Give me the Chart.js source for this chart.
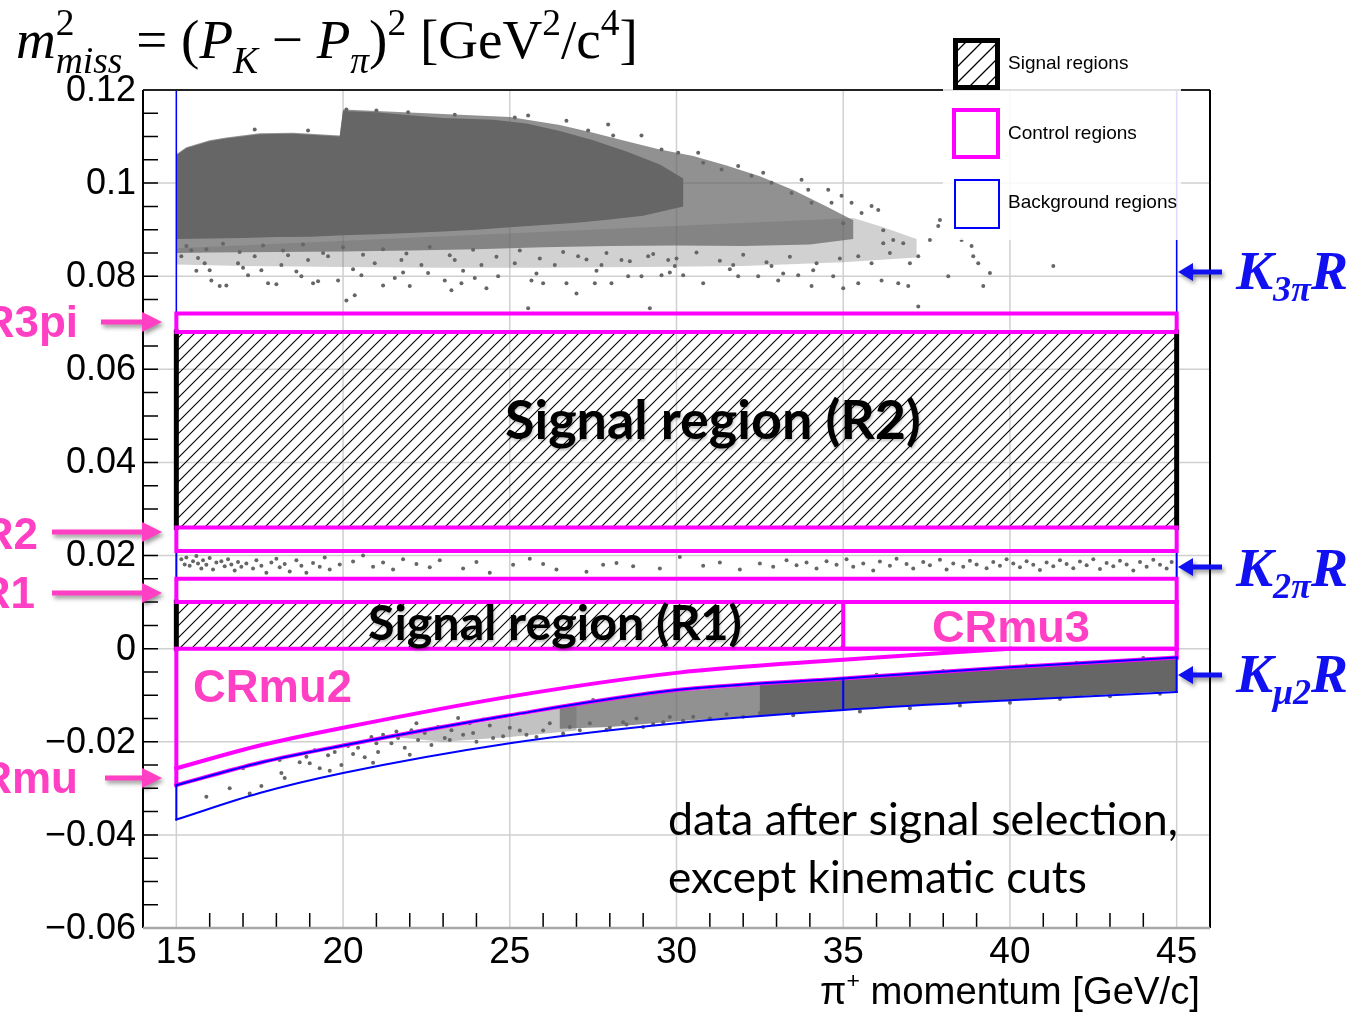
<!DOCTYPE html>
<html>
<head>
<meta charset="utf-8">
<script src="https://cdn.jsdelivr.net/npm/chart.js@4.4.1/dist/chart.umd.min.js"></script>
<style>
  html, body { margin: 0; padding: 0; background: #fff; }
  #wrap { width: 1353px; height: 1014px; }
</style>
</head>
<body>
<div id="wrap"><canvas id="chart" width="1353" height="1014"></canvas></div>
<script>
// axis ranges and ticks
const xRange = [14, 46];
const yRange = [-0.06, 0.12];
const xTicks = [15, 20, 25, 30, 35, 40, 45];
const yTicks = [-0.06, -0.04, -0.02, 0, 0.02, 0.04, 0.06, 0.08, 0.1, 0.12];
const yTickLabels = ['\u22120.06', '\u22120.04', '\u22120.02', '0', '0.02', '0.04', '0.06', '0.08', '0.1', '0.12'];

// regions: [pMin, pMax, m2Min, m2Max]
const sigR1 = [15, 35, 0, 0.01];
const sigR2 = [15, 45, 0.026, 0.068];
const crR1 = [15, 45, 0.01, 0.015];
const crR2 = [15, 45, 0.021, 0.026];
const cr3pi = [15, 45, 0.068, 0.072];
const crMu3 = [35, 45, 0, 0.01];
const bgK2pi = [15, 45, 0.015, 0.021];
const bgK3pi = [15, 45, 0.072, 0.12];

// Kmu2 region edges
const kmu2P = [15, 17.5, 20, 25, 30, 35, 40, 45];
const kmu2Upper = [-0.0293, -0.0245, -0.0208, -0.0143, -0.0089, -0.0064, -0.0040, -0.0019];
const kmu2Lower = [-0.0367, -0.0310, -0.0267, -0.0203, -0.0160, -0.0132, -0.0111, -0.0093];
const crMu2P = [15, 17.5, 20, 25, 30, 35, 40];
const crMu2Edge = [-0.0257, -0.0208, -0.0170, -0.0103, -0.0052, -0.0024, 0];

// outlines of the dense (saturated) parts of the scatter clouds
const k3piCore = [[15,0.0880],[15,0.1060],[15.3,0.1075],[16,0.1090],[16.5,0.1096],[17.5,0.1105],[18.5,0.1106],[19.9,0.1100],
  [20.0,0.1155],[21,0.1152],[22,0.1146],[23,0.1140],[24.5,0.1136],[25.5,0.1128],[26.5,0.1112],[27.5,0.1092],[28.5,0.1068],
  [29.5,0.1040],[30.2,0.1010],[30.2,0.0950],[29,0.0930],[28,0.0922],[27,0.0915],[26,0.0910],[25,0.0905],[24,0.0900],
  [23,0.0896],[22,0.0893],[21,0.0890],[20,0.0888],[19,0.0885],[18,0.0884],[17,0.0882],[16,0.0881]];
const k3piHalo = [[15,0.0850],[15,0.1062],[15.3,0.1077],[16,0.1092],[16.5,0.1098],[17.5,0.1107],[18.5,0.1108],[19.9,0.1102],
  [20,0.1158],[25,0.1142],[26.5,0.1125],[27.5,0.1108],[28.5,0.1090],[29.5,0.1072],
  [30.5,0.1058],[31.5,0.1038],[32.5,0.1015],[33.5,0.0985],[34.5,0.0950],[35.3,0.0920],[35.3,0.0880],[34,0.0868],
  [32,0.0865],[30,0.0866],[28,0.0865],[26,0.0862],[24,0.0858],[22,0.0855],[20,0.0853],[18,0.0852],[16,0.0851]];
const k3piFringe = [[15,0.0825],[15,0.0860],[35.3,0.0925],[36.2,0.0905],[37.2,0.0880],[37.2,0.0840],[35,0.0830],
  [32,0.0822],[29,0.0820],[26,0.0818],[23,0.0818],[20,0.0820],[17,0.0822]];
const kmu2Core = [[32.5,-0.0078],[35,-0.0066],[37.5,-0.0054],[40,-0.0042],[42.5,-0.0031],[45,-0.0021],
  [45,-0.0091],[42.5,-0.0100],[40,-0.0110],[37.5,-0.0120],[35,-0.0131],[32.5,-0.0143]];
const kmu2Mid = [[26.5,-0.0124],[28,-0.0107],[30,-0.0092],[33,-0.0076],[33,-0.0142],[30,-0.0156],[28,-0.0168],[26.5,-0.0172]];
const kmu2Halo = [[21.5,-0.0190],[25,-0.0148],[27,-0.0122],[27,-0.0176],[25,-0.0190],[23,-0.0200]];

// individual events outside the dense parts
const k3piPoints = [[16.05,0.0791],[16.3,0.0779],[16.5,0.078],[16.0,0.0813],[17.15,0.0802],[17.75,0.0785],[18.0,0.0783],
  [17.55,0.0813],[18.15,0.0824],[18.75,0.080],[19.1,0.0785],[19.25,0.0789],[19.85,0.0791],[20.1,0.0748],[20.35,0.0759],
  [20.55,0.0802],[21.2,0.078],[21.55,0.0796],[22.0,0.0779],[22.55,0.0807],[23.05,0.0791],[23.25,0.077],[23.55,0.0785],
  [23.95,0.0796],[24.3,0.0774],[24.65,0.080],[25.55,0.0731],[25.65,0.0791],[26.0,0.0785],[26.7,0.0785],[27.0,0.0763],
  [27.55,0.0785],[28.05,0.0785],[28.55,0.080],[28.95,0.080],[29.2,0.0731],[29.55,0.0802],[29.95,0.0822],
  [15.15,0.0843],[15.65,0.0839],[15.85,0.0828],[15.45,0.0856],[16.85,0.0828],[17.35,0.0843],[18.35,0.0845],[18.95,0.0835],
  [19.55,0.0843],[20.95,0.0828],[21.75,0.0835],[22.35,0.0824],[23.35,0.0835],[24.15,0.0824],[25.15,0.0828],[26.35,0.0824],
  [27.05,0.0843],[27.75,0.0824],[28.35,0.0835],[29.15,0.0843],[29.75,0.0835],
  [15.3,0.0865],[15.9,0.0858],[16.4,0.0870],[16.9,0.0852],[17.6,0.0866],[18.2,0.0855],[18.8,0.0868],[19.4,0.0850],
  [20.0,0.0862],[20.6,0.0846],[21.2,0.0858],[21.9,0.0849],[22.6,0.0863],[23.2,0.0845],[23.9,0.0857],[24.6,0.0842],
  [25.3,0.0855],[25.9,0.0838],[26.6,0.0852],[27.3,0.0836],[27.9,0.0850],[28.6,0.0832],[29.3,0.0848],[30.0,0.0838],
  [30.6,0.0851],[31.3,0.0833],[32.0,0.0846],[32.7,0.0830],[33.4,0.0842],[34.2,0.0828],[34.9,0.0838],
  [15.6,0.0812],[17.0,0.0818],[18.6,0.0810],[20.3,0.0815],[21.8,0.0808],[23.6,0.0812],[25.8,0.0806],[27.6,0.0812],
  [29.8,0.0808],[31.6,0.0815],[33.2,0.0806],
  [20.1,0.1158],[21.0,0.1156],[21.95,0.1152],[23.35,0.1147],[25.15,0.1141],[25.55,0.1145],[26.7,0.1134],[27.95,0.1126],
  [28.1,0.1102],[28.95,0.1102],[27.35,0.1113],[16.45,0.1083],[17.35,0.1115],[18.95,0.1113],[29.55,0.1072],[30.05,0.1065],
  [30.65,0.1065],[30.8,0.1044],[31.35,0.1029],[31.85,0.1037],[32.25,0.1016],[32.6,0.1022],[32.85,0.1001],[33.45,0.0979],
  [33.75,0.1007],[33.95,0.0986],[34.05,0.0958],[34.55,0.0986],[34.65,0.0958],[34.95,0.0973],[35.25,0.0958],[35.0,0.0914],
  [35.55,0.0936],[35.85,0.0951],[36.05,0.0942],[36.2,0.0899],[36.5,0.0878],[36.8,0.0871],[37.25,0.0843],[37.6,0.0878],
  [37.85,0.0908],[37.9,0.0921],[38.15,0.080],[38.55,0.0878],[38.85,0.0865],[38.9,0.0843],[39.05,0.0828],[39.2,0.0779],
  [39.4,0.0807],[41.3,0.0822],[37.25,0.0735],[36.95,0.0779],[36.65,0.0785],[36.15,0.0791],[35.45,0.0785],[35.0,0.0774],
  [34.7,0.080],[34.05,0.0779],[33.65,0.0802],[33.05,0.0791],[32.45,0.080],[31.85,0.080],[30.8,0.0785],[30.2,0.0802],
  [31.7,0.0824],[32.85,0.0822],[34.1,0.0813],[35.85,0.0828],[36.4,0.085],[37.0,0.0828],[35.45,0.0843],[36.2,0.0871]];
const k2piPoints = [[15.15,0.0192],[15.25,0.0181],[15.3,0.0196],[15.4,0.0178],[15.5,0.0188],[15.6,0.0199],[15.65,0.0183],
  [15.75,0.0172],[15.8,0.0190],[15.9,0.0180],[16.0,0.0195],[16.1,0.0170],[16.2,0.0185],[16.35,0.0188],[16.45,0.0177],
  [16.55,0.0192],[16.65,0.0181],[16.75,0.0168],[16.85,0.0186],[16.95,0.0176],[17.1,0.0183],[17.3,0.0172],[17.4,0.0190],
  [17.55,0.0178],[17.7,0.0163],[17.85,0.0185],[18.0,0.0193],[18.1,0.0175],[18.25,0.0182],[18.4,0.0166],[18.6,0.0190],
  [18.75,0.0178],[18.9,0.0163],[19.1,0.0184],[19.3,0.0176],[19.45,0.0196],[19.6,0.0170],[19.9,0.0181],
  [20.3,0.0187],[20.6,0.0200],[20.9,0.0176],[21.2,0.0185],[21.5,0.0170],[21.8,0.0192],[22.2,0.0182],[22.6,0.0175],
  [22.9,0.0190],[23.6,0.0172],[24.0,0.0186],[24.4,0.0163],[25.1,0.0180],[25.6,0.0193],[26.0,0.0182],[26.4,0.0170],
  [27.3,0.0165],[27.8,0.0180],[28.2,0.0184],[28.7,0.0177],[29.5,0.0172],[30.1,0.0197],[30.8,0.0178],[31.3,0.0185],
  [31.9,0.0170],[32.5,0.0183],[32.9,0.0176],[33.3,0.0190],[33.6,0.0179],[33.9,0.0185],[34.2,0.0172],[34.5,0.0188],
  [34.8,0.0180],[35.1,0.0192],[35.3,0.0176],[35.6,0.0183],[35.9,0.0168],[36.1,0.0187],[36.4,0.0178],[36.6,0.0193],
  [36.9,0.0182],[37.1,0.0172],[37.4,0.0186],[37.6,0.0179],[37.9,0.0191],[38.1,0.0170],[38.3,0.0183],[38.6,0.0176],
  [38.8,0.0189],[39.0,0.0181],[39.3,0.0173],[39.5,0.0186],[39.7,0.0178],[39.9,0.0192],[40.1,0.0183],[40.3,0.0175],
  [40.5,0.0188],[40.7,0.0180],[40.9,0.0169],[41.1,0.0185],[41.3,0.0177],[41.5,0.0190],[41.7,0.0182],[41.9,0.0173],
  [42.1,0.0187],[42.3,0.0179],[42.5,0.0192],[42.7,0.0171],[42.9,0.0184],[43.1,0.0177],[43.3,0.0189],[43.5,0.0181],
  [43.7,0.0168],[43.9,0.0186],[44.1,0.0176],[44.3,0.0191],[44.5,0.0180],[44.7,0.0172],[44.85,0.0186]];
const kmu2Points = [[17.0,-0.0257],[17.2,-0.0311],[17.55,-0.0295],[18.15,-0.0267],[18.25,-0.0278],[18.1,-0.0239],
  [18.7,-0.0244],[19.0,-0.0246],[19.15,-0.0218],[19.3,-0.0257],[19.55,-0.0229],[19.75,-0.0222],[19.95,-0.0250],
  [20.15,-0.0209],[20.45,-0.0213],[20.65,-0.0233],[20.85,-0.0190],[21.05,-0.0222],[21.2,-0.0185],[21.45,-0.0203],
  [21.65,-0.0192],[21.85,-0.0213],[22.05,-0.0175],[22.25,-0.0196],[22.45,-0.0181],[22.65,-0.0207],[22.85,-0.0168],
  [23.05,-0.0192],[23.25,-0.0175],[23.45,-0.0149],[23.6,-0.0185],[24.0,-0.0200],[24.4,-0.0165],[24.8,-0.0188],
  [25.3,-0.0176],[25.8,-0.0190],[26.2,-0.0160],[26.6,-0.0182],[27.1,-0.0175],[27.5,-0.0110],[28.0,-0.0170],
  [28.5,-0.0163],[29.0,-0.0168],[29.6,-0.0158],[30.2,-0.0155],[31.0,-0.0150],[32.0,-0.0146],[33.5,-0.0143],
  [35.5,-0.0135],[37.0,-0.0128],[38.5,-0.0122],[40.0,-0.0116],[41.5,-0.0108],[43.0,-0.0102],[44.5,-0.0097],
  [36.0,-0.0056],[38.0,-0.0048],[40.5,-0.0036],[42.0,-0.0030],[44.0,-0.0020],
  [23.2,-0.0196],[23.9,-0.0181],[24.5,-0.0192],[25.0,-0.0170],[25.5,-0.0185],[26.0,-0.0176],[26.8,-0.0168],
  [27.4,-0.0160],[27.9,-0.0174],[28.4,-0.0158],[28.8,-0.0150],[29.3,-0.0162],[29.8,-0.0147],[30.5,-0.0146],
  [31.5,-0.0141],[32.5,-0.0138],[16.6,-0.0300],[19.6,-0.0262],[20.9,-0.0245],[22.0,-0.0228],[22.2,-0.0160],
  [21.0,-0.0203],[20.3,-0.0226],[18.9,-0.0232],[21.6,-0.0178],[23.8,-0.0160],[24.2,-0.0152],[15.9,-0.0318]];

const MAGENTA = '#ff00ff';
const BLUE = '#0000ff';
const PINK = '#ff3fc4';
const DOT = '#666666';

const canvas = document.getElementById('chart');
const ctx0 = canvas.getContext('2d');

const makeHatch = (step, width) => {
    const c = document.createElement('canvas');
    c.width = step;
    c.height = step;
    const g = c.getContext('2d');
    g.strokeStyle = '#000';
    g.lineWidth = width;
    g.beginPath();
    g.moveTo(-2, step + 2); g.lineTo(step + 2, -2);
    g.moveTo(-2, 2); g.lineTo(2, -2);
    g.moveTo(step - 2, step + 2); g.lineTo(step + 2, step - 2);
    g.stroke();
    return ctx0.createPattern(c, 'repeat');
};
const hatch = makeHatch(12, 1.1);
const hatchLegend = makeHatch(16, 1.3);

const xy = arr => arr.map(p => ({ x: p[0], y: p[1] }));
const zipXY = (xs, ys) => xs.map((v, i) => ({ x: v, y: ys[i] }));
const rect = r => [{x: r[0], y: r[2]}, {x: r[1], y: r[2]}, {x: r[1], y: r[3]}, {x: r[0], y: r[3]}, {x: r[0], y: r[2]}];

const layers = [];   // bottom to top
const addFill = (data, color) => layers.push({
    data, showLine: true, fill: 'shape', backgroundColor: color, borderWidth: 0, pointRadius: 0, tension: 0
});
const addLine = (data, color, width, smooth) => layers.push({
    data, showLine: true, fill: false, borderColor: color, borderWidth: width, pointRadius: 0,
    borderCapStyle: 'square', tension: 0, cubicInterpolationMode: smooth ? 'monotone' : 'default'
});
const addDots = data => layers.push({
    data, showLine: false, pointRadius: 2, pointBorderWidth: 0,
    pointBackgroundColor: DOT, pointBorderColor: DOT
});

// K3pi cloud
addFill(xy(k3piFringe), 'rgba(102,102,102,0.3)');
addFill(xy(k3piHalo), 'rgba(102,102,102,0.72)');
addFill(xy(k3piCore), DOT);
addDots(xy(k3piPoints));
// signal regions (hatched)
addFill(rect(sigR2), hatch);
addFill(rect(sigR1), hatch);
// K2pi events
addDots(xy(k2piPoints));
// Kmu2 band
addFill(xy(kmu2Halo), 'rgba(102,102,102,0.4)');
addFill(xy(kmu2Mid), 'rgba(102,102,102,0.72)');
addFill(xy(kmu2Core), DOT);
addDots(xy(kmu2Points));
// signal region borders
addLine(rect(sigR2), '#000', 2);
addLine(rect(sigR1), '#000', 2);
addLine([{x: sigR2[0], y: sigR2[2]}, {x: sigR2[0], y: sigR2[3]}], '#000', 5);
addLine([{x: sigR2[1], y: sigR2[2]}, {x: sigR2[1], y: sigR2[3]}], '#000', 5);
addLine([{x: sigR1[0], y: sigR1[2]}, {x: sigR1[0], y: sigR1[3]}], '#000', 5);
// background regions (blue)
addLine([{x: bgK3pi[0], y: bgK3pi[3]}, {x: bgK3pi[0], y: bgK3pi[2]}, {x: bgK3pi[1], y: bgK3pi[2]}, {x: bgK3pi[1], y: bgK3pi[3]}], BLUE, 1.5);
addLine(rect(bgK2pi), BLUE, 2);
// control regions (magenta)
addLine(rect(cr3pi), MAGENTA, 4);
addLine(rect(crR2), MAGENTA, 4);
addLine(rect(crR1), MAGENTA, 4);
addLine(rect(crMu3), MAGENTA, 4);
addLine([{x: 15, y: 0}, {x: 45, y: 0}], MAGENTA, 4);
addLine([{x: 15, y: 0}, {x: 15, y: kmu2Upper[0]}], MAGENTA, 4);
addLine([{x: 45, y: 0.01}, {x: 45, y: kmu2Upper[kmu2Upper.length - 1]}], MAGENTA, 4);
addLine(zipXY(crMu2P, crMu2Edge), MAGENTA, 4, true);
addLine(zipXY(kmu2P, kmu2Upper), MAGENTA, 4, true);
// Kmu2 background region (blue), split at 35 GeV/c
addLine(zipXY(kmu2P, kmu2Upper), BLUE, 2, true);
addLine(zipXY(kmu2P, kmu2Lower), BLUE, 2, true);
[0, 5, 7].forEach(i => addLine([{x: kmu2P[i], y: kmu2Upper[i]}, {x: kmu2P[i], y: kmu2Lower[i]}], BLUE, 2));

layers.forEach((ds, i) => { ds.order = layers.length - i; });

const fitSize = (ctx, text, font, width) => {
    ctx.font = font.replace('#', '100px');
    return 100 * width / ctx.measureText(text).width;
};

// parts: {t, s: style, k: size factor, dy: shift in em, under: stacked under previous}
const drawRich = (ctx, parts, family, x, baseline, width, color) => {
    const layout = size => {
        let cx = 0, lastX = 0;
        const items = [];
        parts.forEach(p => {
            ctx.font = `${p.s || ''} ${size * (p.k || 1)}px ${family}`;
            const w = ctx.measureText(p.t).width;
            let px;
            if (p.under) {
                px = lastX;
                cx = Math.max(cx, lastX + w);
            } else {
                px = cx;
                cx += w;
            }
            items.push({ p, px, font: ctx.font });
            lastX = px;
        });
        return { items, width: cx };
    };
    const size = 100 * width / layout(100).width;
    const res = layout(size);
    ctx.fillStyle = color;
    ctx.textAlign = 'left';
    ctx.textBaseline = 'alphabetic';
    res.items.forEach(it => {
        ctx.font = it.font;
        ctx.fillText(it.p.t, x + it.px, baseline + (it.p.dy || 0) * size);
    });
};

const arrow = (ctx, x0, x1, y, color, shaft, headL, headH) => {
    const dir = Math.sign(x1 - x0);
    const xb = x1 - dir * headL;
    ctx.save();
    ctx.shadowColor = 'rgba(0,0,0,0.4)';
    ctx.shadowBlur = 4;
    ctx.shadowOffsetX = 2;
    ctx.shadowOffsetY = 3;
    ctx.fillStyle = color;
    ctx.beginPath();
    ctx.moveTo(x0, y - shaft / 2);
    ctx.lineTo(xb, y - shaft / 2);
    ctx.lineTo(xb, y - headH);
    ctx.lineTo(x1, y);
    ctx.lineTo(xb, y + headH);
    ctx.lineTo(xb, y + shaft / 2);
    ctx.lineTo(x0, y + shaft / 2);
    ctx.closePath();
    ctx.fill();
    ctx.restore();
};

const fitText = (ctx, text, font, left, right, baseline, color) => {
    const size = fitSize(ctx, text, font, right - left);
    ctx.font = font.replace('#', size + 'px');
    ctx.fillStyle = color;
    ctx.textAlign = 'left';
    ctx.textBaseline = 'alphabetic';
    ctx.fillText(text, left, baseline);
};

const decor = {
    id: 'decor',
    beforeDatasetsDraw(chart) {
        const { ctx, chartArea: a, scales: { x, y } } = chart;
        ctx.save();
        ctx.strokeStyle = '#d0d0d0';
        ctx.lineWidth = 1.5;
        ctx.beginPath();
        xTicks.forEach(v => {
            const px = x.getPixelForValue(v);
            ctx.moveTo(px, a.top); ctx.lineTo(px, a.bottom);
        });
        yTicks.forEach(v => {
            const py = y.getPixelForValue(v);
            ctx.moveTo(a.left, py); ctx.lineTo(a.right, py);
        });
        ctx.stroke();
        ctx.restore();
    },
    afterDatasetsDraw(chart) {
        const { ctx, chartArea: a, scales: { x, y } } = chart;
        ctx.save();
        // minor ticks
        ctx.strokeStyle = '#000';
        ctx.lineWidth = 1.5;
        ctx.beginPath();
        for (let i = 1; i < 36; i++) {
            const py = y.getPixelForValue(yRange[0] + i * 0.005);
            ctx.moveTo(a.left, py); ctx.lineTo(a.left + 15, py);
        }
        for (let v = 15; v <= 45; v++) {
            if (v % 5 === 0) continue;
            const px = x.getPixelForValue(v);
            ctx.moveTo(px, a.bottom); ctx.lineTo(px, a.bottom - 15);
        }
        ctx.stroke();
        // frame
        ctx.lineWidth = 2;
        ctx.strokeStyle = '#222';
        ctx.beginPath();
        ctx.moveTo(a.left, a.top); ctx.lineTo(a.right, a.top);
        ctx.stroke();
        ctx.strokeStyle = '#000';
        ctx.beginPath();
        ctx.moveTo(a.left, a.top); ctx.lineTo(a.left, a.bottom);
        ctx.moveTo(a.right, a.top); ctx.lineTo(a.right, a.bottom);
        ctx.stroke();
        ctx.strokeStyle = '#a8a8a8';
        ctx.lineWidth = 2.5;
        ctx.beginPath();
        ctx.moveTo(a.left, a.bottom); ctx.lineTo(a.right, a.bottom);
        ctx.stroke();
        // tick labels
        ctx.fillStyle = '#000';
        ctx.font = '36px "Liberation Sans", Arial, sans-serif';
        ctx.textAlign = 'right';
        ctx.textBaseline = 'middle';
        yTicks.forEach((v, i) => ctx.fillText(yTickLabels[i], 136, y.getPixelForValue(v) + 1));
        ctx.textAlign = 'center';
        ctx.font = '37px "Liberation Sans Narrow", "Liberation Sans", Arial, sans-serif';
        xTicks.forEach(v => ctx.fillText(String(v), x.getPixelForValue(v), 953));
        ctx.restore();
    },
    afterDraw(chart) {
        const { ctx } = chart;
        ctx.save();
        // axis titles
        drawRich(ctx, [
            { t: 'm', s: 'italic' },
            { t: '2', k: 0.68, dy: -0.42 },
            { t: 'miss', s: 'italic', k: 0.68, dy: 0.28, under: true },
            { t: ' = (' },
            { t: 'P', s: 'italic' },
            { t: 'K', s: 'italic', k: 0.68, dy: 0.28 },
            { t: ' \u2212 ' },
            { t: 'P', s: 'italic' },
            { t: '\u03c0', s: 'italic', k: 0.68, dy: 0.28 },
            { t: ')' },
            { t: '2', k: 0.68, dy: -0.42 },
            { t: ' [GeV' },
            { t: '2', k: 0.68, dy: -0.42 },
            { t: '/c' },
            { t: '4', k: 0.68, dy: -0.42 },
            { t: ']' }
        ], '"Liberation Serif", "Times New Roman", serif', 16, 58, 622, '#000');
        drawRich(ctx, [
            { t: '\u03c0' },
            { t: '+', k: 0.6, dy: -0.42 },
            { t: ' momentum [GeV/c]' }
        ], '"Liberation Sans", Arial, sans-serif', 820, 1004, 380, '#000');

        // texts inside the plot
        ctx.save();
        ctx.shadowColor = 'rgba(0,0,0,0.25)';
        ctx.shadowBlur = 3;
        ctx.shadowOffsetX = 1;
        ctx.shadowOffsetY = 2;
        fitText(ctx, 'Signal region (R2)', 'bold # Lato, "Open Sans", sans-serif', 505, 921, 439, '#000');
        fitText(ctx, 'Signal region (R1)', 'bold # Lato, "Open Sans", sans-serif', 368, 742, 640, '#000');
        ctx.restore();
        fitText(ctx, 'CRmu3', 'bold # "Liberation Sans", Arial, sans-serif', 932, 1090, 642, PINK);
        fitText(ctx, 'CRmu2', 'bold # "Liberation Sans", Arial, sans-serif', 193, 352, 702, PINK);
        fitText(ctx, 'data after signal selection,', '# Lato, "Open Sans", sans-serif', 668, 1178, 835, '#000');
        fitText(ctx, 'except kinematic cuts', '# Lato, "Open Sans", sans-serif', 668, 1087, 893, '#000');

        // region labels on the left
        ctx.font = 'bold 44px "Liberation Sans", Arial, sans-serif';
        ctx.fillStyle = PINK;
        ctx.textAlign = 'right';
        ctx.textBaseline = 'alphabetic';
        ctx.fillText('R3pi', 78, 337);
        ctx.fillText('R2', 38, 549);
        ctx.fillText('R1', 35, 608);
        ctx.fillText('Rmu', 78, 793);
        arrow(ctx, 101, 162, 322, PINK, 5, 20, 10);
        arrow(ctx, 52, 162, 532, PINK, 5, 20, 10);
        arrow(ctx, 52, 162, 593, PINK, 5, 20, 10);
        arrow(ctx, 105, 162, 778, PINK, 5, 20, 10);

        // background region labels on the right
        const kFam = '"Liberation Serif", "DejaVu Serif", serif';
        const kBlue = '#1010f0';
        drawRich(ctx, [{ t: 'K', s: 'bold italic' }, { t: '3\u03c0', s: 'bold italic', k: 0.65, dy: 0.22 }, { t: 'R', s: 'bold italic' }],
            kFam, 1236, 289, 112, kBlue);
        drawRich(ctx, [{ t: 'K', s: 'bold italic' }, { t: '2\u03c0', s: 'bold italic', k: 0.65, dy: 0.22 }, { t: 'R', s: 'bold italic' }],
            kFam, 1236, 586, 112, kBlue);
        drawRich(ctx, [{ t: 'K', s: 'bold italic' }, { t: '\u03bc2', s: 'bold italic', k: 0.65, dy: 0.22 }, { t: 'R', s: 'bold italic' }],
            kFam, 1236, 692, 112, kBlue);
        arrow(ctx, 1222, 1178, 272, kBlue, 5, 15, 9);
        arrow(ctx, 1222, 1178, 567, kBlue, 5, 15, 9);
        arrow(ctx, 1222, 1178, 675, kBlue, 5, 15, 9);

        // legend
        ctx.fillStyle = 'rgba(255,255,255,0.86)';
        ctx.fillRect(943, 28, 238, 212);
        ctx.fillStyle = hatchLegend;
        ctx.fillRect(955, 40, 43, 48);
        ctx.lineWidth = 5;
        ctx.strokeStyle = '#000';
        ctx.strokeRect(955.5, 40.5, 42, 47);
        ctx.lineWidth = 4;
        ctx.strokeStyle = MAGENTA;
        ctx.strokeRect(954, 110, 44, 47);
        ctx.lineWidth = 2;
        ctx.strokeStyle = BLUE;
        ctx.strokeRect(955, 180, 44, 48);
        ctx.fillStyle = '#000';
        ctx.font = '19px "Liberation Sans", Arial, sans-serif';
        ctx.textAlign = 'left';
        ctx.textBaseline = 'middle';
        ctx.fillText('Signal regions', 1008, 64);
        ctx.fillText('Control regions', 1008, 134);
        ctx.fillText('Background regions', 1008, 203);
        ctx.restore();
    }
};

new Chart(canvas, {
    type: 'line',
    data: { datasets: layers },
    options: {
        responsive: false,
        animation: false,
        devicePixelRatio: 1,
        layout: { padding: { left: 143, top: 90, right: 143, bottom: 86 } },
        plugins: { legend: { display: false }, tooltip: { enabled: false } },
        scales: {
            x: { type: 'linear', display: false, min: xRange[0], max: xRange[1] },
            y: { type: 'linear', display: false, min: yRange[0], max: yRange[1] }
        }
    },
    plugins: [decor]
});
</script>
</body>
</html>
